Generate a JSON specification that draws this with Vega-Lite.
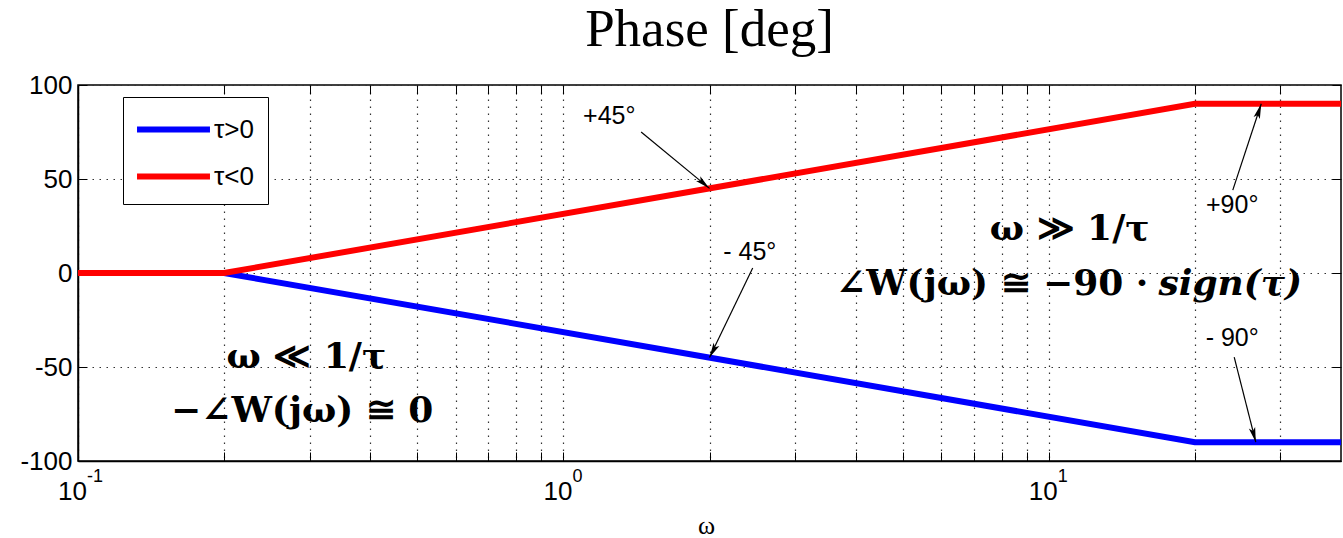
{
  "$schema": "https://vega.github.io/schema/vega-lite/v6.json",
  "width": 1263,
  "height": 376,
  "autosize": {"type": "none"},
  "padding": {"left": 78, "top": 85, "right": 2, "bottom": 77},
  "background": "white",
  "title": {"text": "Phase [deg]", "font": "Liberation Serif", "fontSize": 53, "fontWeight": "normal", "color": "black", "anchor": "middle", "offset": 15},
  "config": {
    "view": {"stroke": "black", "strokeWidth": 1.5},
    "axis": {"domainColor": "black", "domainWidth": 1.5, "tickColor": "black", "tickWidth": 1, "labelColor": "black", "labelFont": "Liberation Sans"}
  },
  "datasets": {
    "phase": [
      {"omega": 0.1, "phase": 0, "tau": "τ>0"},
      {"omega": 0.2, "phase": 0, "tau": "τ>0"},
      {"omega": 20, "phase": -90, "tau": "τ>0"},
      {"omega": 40, "phase": -90, "tau": "τ>0"},
      {"omega": 0.1, "phase": 0, "tau": "τ<0"},
      {"omega": 0.2, "phase": 0, "tau": "τ<0"},
      {"omega": 20, "phase": 90, "tau": "τ<0"},
      {"omega": 40, "phase": 90, "tau": "τ<0"}
    ],
    "notes": [
      {"omega": 1.243, "phase": 83.5, "label": "+45°"},
      {"omega": 2.421, "phase": 11.2, "label": "- 45°"},
      {"omega": 23.87, "phase": 36.2, "label": "+90°"},
      {"omega": 23.87, "phase": -34.6, "label": "- 90°"}
    ],
    "arrows": [
      {"id": "a1", "omega": 1.446, "phase": 75.0, "omega2": 2.0, "phase2": 45},
      {"id": "a2", "omega": 2.455, "phase": 2.7, "omega2": 2.0, "phase2": -45},
      {"id": "a3", "omega": 23.94, "phase": 44.1, "omega2": 27.4, "phase2": 90},
      {"id": "a4", "omega": 24.1, "phase": -44.7, "omega2": 26.7, "phase2": -90}
    ],
    "exps": [
      {"omega": 0.1, "exp": "-1"},
      {"omega": 1, "exp": "0"},
      {"omega": 10, "exp": "1"}
    ]
  },
  "layer": [
    {
      "data": {"name": "phase"},
      "mark": {"type": "line", "strokeWidth": 6, "clip": true},
      "encoding": {
        "x": {"field": "omega", "type": "quantitative", "scale": {"type": "log", "domain": [0.1, 40], "nice": false},
          "axis": {"orient": "bottom", "title": "ω", "values": [0.1, 0.2, 0.3, 0.4, 0.5, 0.6, 0.7, 0.8, 0.9, 1, 2, 3, 4, 5, 6, 7, 8, 9, 10, 20, 30],
            "labelExpr": "datum.value == 0.1 || datum.value == 1 || datum.value == 10 ? '10' : ''",
            "labelFlush": false, "labelOverlap": false, "labelBound": false, "labelFontSize": 26, "labelBaseline": "alphabetic", "labelPadding": 47, "labelOffset": -6,
            "tickSize": -9, "grid": true, "gridColor": "#333333", "gridDash": [1.5, 5.5], "gridWidth": 1.2, "gridOpacity": 1,
            "titleFont": "Liberation Serif", "titleFontSize": 26, "titleFontWeight": "normal", "titleColor": "black", "titleBaseline": "alphabetic", "titleY": 72, "titleX": 628}},
        "y": {"field": "phase", "type": "quantitative", "scale": {"domain": [-100, 100], "nice": false},
          "axis": {"orient": "left", "title": null, "values": [-100, -50, 0, 50, 100], "labelExpr": "'' + datum.value", "labelFlush": false, "labelOverlap": false, "labelFontSize": 26, "labelPadding": 15,
            "tickSize": -9, "grid": true, "gridColor": "#333333", "gridDash": [1.5, 5.5], "gridWidth": 1.2, "gridOpacity": 1}},
        "color": {"field": "tau", "type": "nominal", "scale": {"domain": ["τ>0", "τ<0"], "range": ["#0000ff", "#ff0000"]},
          "legend": {"orient": "none", "legendX": 45, "legendY": 12, "title": null, "symbolType": "M-2.4,0L2.4,0", "symbolSize": 924, "symbolStrokeWidth": 6, "symbolOffset": 18,
            "labelFontSize": 26, "labelFont": "Liberation Sans", "labelColor": "black", "labelOffset": 22, "strokeColor": "black", "fillColor": "white", "padding": 14, "rowPadding": 15}}
      }
    },
    {
      "data": {"name": "notes"},
      "mark": {"type": "text", "fontSize": 25, "font": "Liberation Sans", "color": "black", "align": "center", "baseline": "middle"},
      "encoding": {
        "x": {"field": "omega", "type": "quantitative", "axis": null},
        "y": {"field": "phase", "type": "quantitative", "axis": null},
        "text": {"field": "label"}
      }
    },
    {
      "data": {"name": "arrows"},
      "mark": {"type": "rule", "strokeWidth": 1.2, "color": "black"},
      "encoding": {
        "x": {"field": "omega", "type": "quantitative", "axis": null},
        "y": {"field": "phase", "type": "quantitative", "axis": null},
        "x2": {"field": "omega2"},
        "y2": {"field": "phase2"}
      }
    },
    {
      "data": {"name": "arrows"},
      "transform": [{"filter": "datum.id == 'a1'"}],
      "mark": {"type": "point", "shape": "M0,0L0.35,1.6L0,1.25L-0.35,1.6Z", "filled": true, "color": "black", "opacity": 1, "size": 350, "angle": 130.7},
      "encoding": {
        "x": {"field": "omega2", "type": "quantitative", "axis": null},
        "y": {"field": "phase2", "type": "quantitative", "axis": null}
      }
    },
    {
      "data": {"name": "arrows"},
      "transform": [{"filter": "datum.id == 'a2'"}],
      "mark": {"type": "point", "shape": "M0,0L0.35,1.6L0,1.25L-0.35,1.6Z", "filled": true, "color": "black", "opacity": 1, "size": 350, "angle": 207.8},
      "encoding": {
        "x": {"field": "omega2", "type": "quantitative", "axis": null},
        "y": {"field": "phase2", "type": "quantitative", "axis": null}
      }
    },
    {
      "data": {"name": "arrows"},
      "transform": [{"filter": "datum.id == 'a3'"}],
      "mark": {"type": "point", "shape": "M0,0L0.35,1.6L0,1.25L-0.35,1.6Z", "filled": true, "color": "black", "opacity": 1, "size": 350, "angle": 17.6},
      "encoding": {
        "x": {"field": "omega2", "type": "quantitative", "axis": null},
        "y": {"field": "phase2", "type": "quantitative", "axis": null}
      }
    },
    {
      "data": {"name": "arrows"},
      "transform": [{"filter": "datum.id == 'a4'"}],
      "mark": {"type": "point", "shape": "M0,0L0.35,1.6L0,1.25L-0.35,1.6Z", "filled": true, "color": "black", "opacity": 1, "size": 350, "angle": 165.2},
      "encoding": {
        "x": {"field": "omega2", "type": "quantitative", "axis": null},
        "y": {"field": "phase2", "type": "quantitative", "axis": null}
      }
    },
    {
      "data": {"values": [
        {"omega": 0.2953, "phase": -50.5, "label": "ω ≪ 1/τ"},
        {"omega": 0.2897, "phase": -79.3, "label": "−∠W(jω) ≅ 0"},
        {"omega": 11.04, "phase": 17.6, "label": "ω ≫ 1/τ"}
      ]},
      "mark": {"type": "text", "font": "DejaVu Serif", "fontWeight": "bold", "fontSize": 36, "color": "black", "align": "center", "baseline": "alphabetic"},
      "encoding": {
        "x": {"field": "omega", "type": "quantitative", "axis": null},
        "y": {"field": "phase", "type": "quantitative", "axis": null},
        "text": {"field": "label"}
      }
    },
    {
      "data": {"values": [
        {"omega": 16.04, "phase": -11.7, "label": "∠W(jω) ≅ −90 ·"}
      ]},
      "mark": {"type": "text", "font": "DejaVu Serif", "fontWeight": "bold", "fontSize": 36, "color": "black", "align": "right", "baseline": "alphabetic"},
      "encoding": {
        "x": {"field": "omega", "type": "quantitative", "axis": null},
        "y": {"field": "phase", "type": "quantitative", "axis": null},
        "text": {"field": "label"}
      }
    },
    {
      "data": {"values": [
        {"omega": 16.83, "phase": -11.7, "label": "sign(τ)"}
      ]},
      "mark": {"type": "text", "font": "DejaVu Serif", "fontWeight": "bold", "fontStyle": "italic", "fontSize": 36, "color": "black", "align": "left", "baseline": "alphabetic"},
      "encoding": {
        "x": {"field": "omega", "type": "quantitative", "axis": null},
        "y": {"field": "phase", "type": "quantitative", "axis": null},
        "text": {"field": "label"}
      }
    },
    {
      "data": {"name": "exps"},
      "mark": {"type": "text", "font": "Liberation Sans", "fontSize": 18, "color": "black", "align": "left", "baseline": "alphabetic", "dx": 9, "dy": 21, "clip": false},
      "encoding": {
        "x": {"field": "omega", "type": "quantitative", "axis": null},
        "y": {"datum": -100, "type": "quantitative", "axis": null},
        "text": {"field": "exp"}
      }
    },
    {
      "data": {"name": "phase"},
      "mark": {"type": "point", "opacity": 0},
      "encoding": {
        "x": {"field": "omega", "type": "quantitative",
          "axis": {"orient": "top", "title": null, "labels": false, "grid": false, "domain": false, "tickSize": -9, "values": [0.1, 0.2, 0.3, 0.4, 0.5, 0.6, 0.7, 0.8, 0.9, 1, 2, 3, 4, 5, 6, 7, 8, 9, 10, 20, 30]}},
        "y": {"field": "phase", "type": "quantitative",
          "axis": {"orient": "right", "title": null, "labels": false, "grid": false, "domain": false, "tickSize": -9, "values": [-100, -50, 0, 50, 100]}}
      }
    }
  ],
  "resolve": {"axis": {"x": "independent", "y": "independent"}}
}
